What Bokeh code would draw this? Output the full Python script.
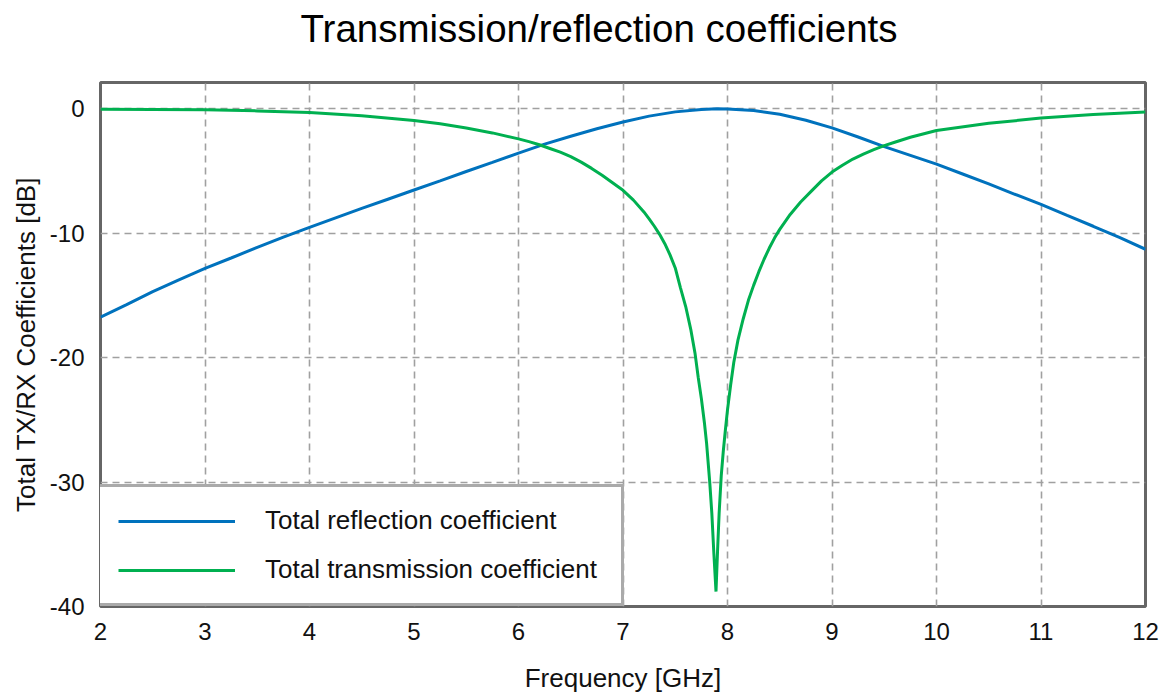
from bokeh.plotting import figure
from bokeh.models import Range1d, FixedTicker, Legend, LegendItem, Title
from bokeh.embed import file_html
from bokeh.resources import INLINE

# ---- data ----
refl_freq = [2, 2.25, 2.5, 2.75, 3, 3.25, 3.5, 3.75, 4, 4.25, 4.5, 4.75, 5, 5.25, 5.5, 5.75,
             6, 6.25, 6.5, 6.75, 7, 7.25, 7.5, 7.75, 7.9, 8.0, 8.25, 8.5, 8.75, 9, 9.25, 9.5,
             9.75, 10, 10.25, 10.5, 10.75, 11, 11.25, 11.5, 11.75, 12]
refl_db = [-16.76, -15.75, -14.7, -13.75, -12.84, -12.0, -11.15, -10.33, -9.54, -8.78, -8.02,
           -7.28, -6.54, -5.8, -5.05, -4.32, -3.57, -2.85, -2.22, -1.62, -1.07, -0.6, -0.26,
           -0.06, 0.0, -0.02, -0.15, -0.45, -0.93, -1.55, -2.28, -3.05, -3.75, -4.46, -5.25,
           -6.05, -6.88, -7.7, -8.58, -9.45, -10.35, -11.3]

trans_freq = [2, 2.5, 3, 3.5, 4, 4.5, 5, 5.25, 5.5, 5.75, 6, 6.1, 6.2, 6.3, 6.4, 6.5, 6.6, 6.7,
              6.8, 6.9, 7.0, 7.1, 7.2, 7.25, 7.3, 7.35, 7.4, 7.45, 7.5, 7.55, 7.6, 7.65, 7.69,
              7.72, 7.75, 7.78, 7.8, 7.83, 7.85, 7.87, 7.89, 7.905, 7.92, 7.94, 7.96, 7.98,
              8.0, 8.03, 8.06, 8.1, 8.15, 8.2, 8.25, 8.3, 8.35, 8.4, 8.45, 8.5, 8.6, 8.7, 8.8,
              8.9, 9.0, 9.1, 9.2, 9.3, 9.4, 9.5, 9.6, 9.75, 10, 10.5, 11, 11.5, 12]
trans_db = [-0.05, -0.06, -0.08, -0.18, -0.32, -0.58, -0.95, -1.22, -1.55, -1.95, -2.43, -2.65,
            -2.9, -3.2, -3.5, -3.85, -4.3, -4.8, -5.35, -5.95, -6.56, -7.35, -8.3, -8.85,
            -9.45, -10.1, -10.85, -11.75, -12.8, -14.4, -15.9, -17.8, -19.7, -21.6, -23.3,
            -25.3, -26.9, -30.0, -32.5, -35.8, -38.8, -35.5, -32.5, -29.5, -27.5, -25.8,
            -24.2, -22.2, -20.4, -18.6, -16.9, -15.4, -14.2, -13.1, -12.1, -11.2, -10.4,
            -9.7, -8.5, -7.5, -6.65, -5.8, -5.1, -4.55, -4.05, -3.65, -3.3, -2.97, -2.7,
            -2.3, -1.76, -1.18, -0.76, -0.48, -0.27]

x_ticks = [2, 3, 4, 5, 6, 7, 8, 9, 10, 11, 12]
y_ticks = [-40, -30, -20, -10, 0]
y_tick_labels = ["-40", "-30", "-20", "-10", "0"]

title_text = "Transmission/reflection coefficients"
x_label = "Frequency [GHz]"
y_label = "Total TX/RX Coefficients [dB]"
series_names = ["Total reflection coefficient", "Total transmission coefficient"]
series_colors = ["#0072BD", "#00B050"]

FONT = "Liberation Sans"

p = figure(frame_width=1045, frame_height=524,
           x_range=Range1d(2, 12), y_range=Range1d(-40, 2.1),
           output_backend="svg", toolbar_location=None,
           min_border_left=100, min_border_right=15, min_border_top=82, min_border_bottom=86)

p.title.text = ""
# blank spacer panel between the frame and the title (added first = nearest the frame)
p.add_layout(Title(text=" ", text_font=FONT, text_font_size="16px", standoff=12), "above")
p.add_layout(Title(text=title_text, text_font=FONT, text_font_size="38.5px",
                   text_font_style="normal", text_color="#000000", align="left",
                   offset=200, vertical_align="top", standoff=0), "above")

p.outline_line_color = "#666666"
p.outline_line_width = 3
p.outline_line_alpha = 1.0

for ax in (p.xaxis[0], p.yaxis[0]):
    ax.axis_line_color = None
    ax.major_tick_line_color = None
    ax.minor_tick_line_color = None
    ax.major_label_text_font = FONT
    ax.major_label_text_font_size = "24px"
    ax.major_label_text_color = "#111111"
    ax.axis_label_text_font = FONT
    ax.axis_label_text_font_style = "normal"
    ax.axis_label_text_color = "#111111"

p.xaxis[0].ticker = FixedTicker(ticks=x_ticks)
p.yaxis[0].ticker = FixedTicker(ticks=y_ticks)
p.yaxis[0].major_label_overrides = {t: l for t, l in zip(y_ticks, y_tick_labels)}
p.xaxis[0].major_label_standoff = 10
p.yaxis[0].major_label_standoff = 10
p.xaxis[0].axis_label = x_label
p.yaxis[0].axis_label = y_label
p.xaxis[0].axis_label_text_font_size = "26px"
p.yaxis[0].axis_label_text_font_size = "26px"
p.xaxis[0].axis_label_standoff = 20
p.yaxis[0].axis_label_standoff = 6

for g in (p.xgrid[0], p.ygrid[0]):
    g.grid_line_color = "#a0a0a0"
    g.grid_line_width = 1.6
    g.grid_line_dash = "7 5"

r1 = p.line(refl_freq, refl_db, line_color=series_colors[0], line_width=3)
r2 = p.line(trans_freq, trans_db, line_color=series_colors[1], line_width=3)

legend = Legend(items=[LegendItem(label=series_names[0], renderers=[r1]),
                       LegendItem(label=series_names[1], renderers=[r2])],
                location=(-3, 0), orientation="vertical")
legend.label_text_font = FONT
legend.label_text_font_size = "26px"
legend.label_text_color = "#111111"
legend.glyph_width = 117
legend.glyph_height = 30
legend.label_height = 30
legend.label_width = 338
legend.label_standoff = 30
legend.spacing = 18
legend.padding = 18
legend.margin = 0
legend.border_line_color = "#555555"
legend.border_line_width = 3
legend.background_fill_color = "white"
legend.background_fill_alpha = 1.0
p.add_layout(legend, "center")

open("out.html", "w").write(file_html(p, INLINE))
